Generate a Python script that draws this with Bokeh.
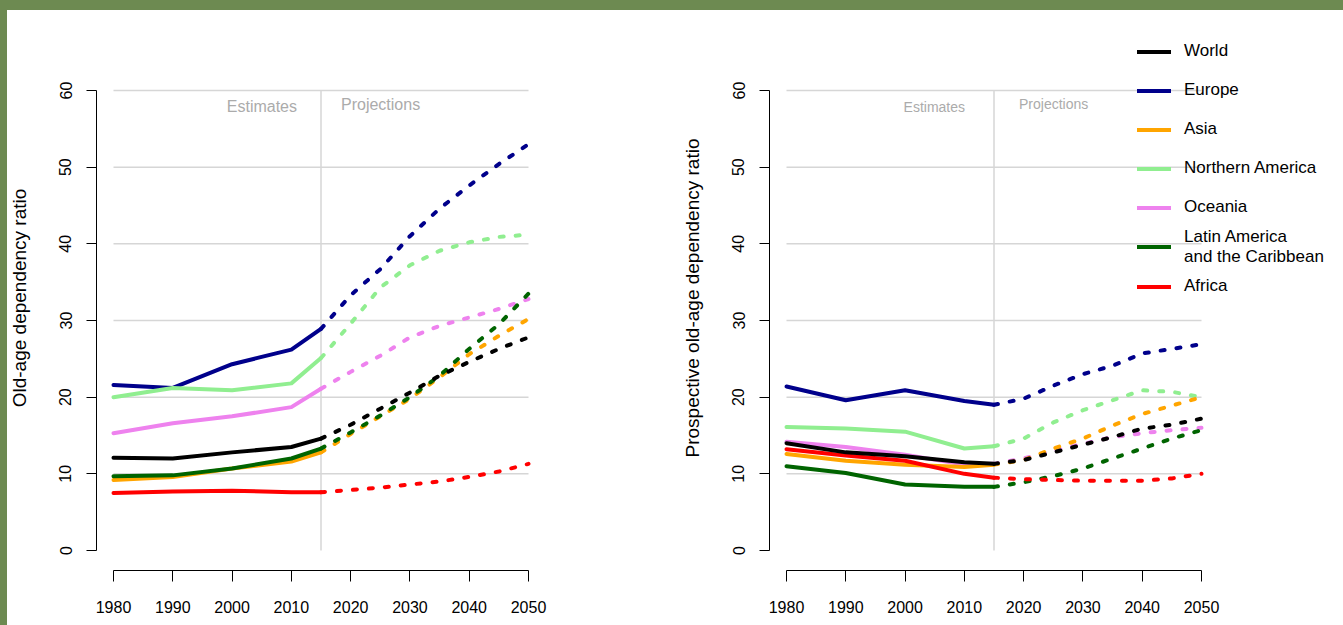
import math
from bokeh.plotting import figure
from bokeh.layouts import row
from bokeh.models import (Range1d, FixedTicker, Label, Legend, LegendItem,
                          GlobalInlineStyleSheet)
from bokeh.embed import file_html
from bokeh.resources import INLINE

# ---------------- data ----------------
years_est = [1980, 1990, 2000, 2010, 2015]
years_proj = [2015, 2020, 2025, 2030, 2035, 2040, 2045, 2050]
y_ticks = [0, 10, 20, 30, 40, 50, 60]
x_ticks = [1980, 1990, 2000, 2010, 2020, 2030, 2040, 2050]

regions = ["World", "Europe", "Asia", "Northern America", "Oceania",
           "Latin America\nand the Caribbean", "Africa"]
colors = ["#000000", "#00008b", "#ffa500", "#90ee90", "#ee82ee", "#006400", "#ff0000"]

# Old-age dependency ratio
oadr_est = {
    "World":   [12.1, 12.0, 12.8, 13.5, 14.6],
    "Europe":  [21.6, 21.2, 24.3, 26.2, 28.9],
    "Asia":    [9.2, 9.6, 10.7, 11.6, 12.8],
    "NAm":     [20.0, 21.2, 20.9, 21.8, 25.1],
    "Oceania": [15.3, 16.6, 17.5, 18.7, 21.1],
    "LatAm":   [9.7, 9.8, 10.7, 12.0, 13.3],
    "Africa":  [7.5, 7.7, 7.8, 7.6, 7.6],
}
oadr_proj = {
    "World":   [14.6, 16.4, 18.5, 20.6, 22.8, 24.6, 26.3, 27.8],
    "Europe":  [28.9, 33.3, 36.7, 41.0, 44.6, 47.6, 50.4, 53.0],
    "Asia":    [12.8, 15.2, 17.5, 19.8, 22.6, 25.6, 28.0, 30.2],
    "NAm":     [25.1, 29.6, 34.3, 37.2, 39.1, 40.2, 40.9, 41.2],
    "Oceania": [21.1, 23.3, 25.4, 27.8, 29.3, 30.4, 31.5, 32.8],
    "LatAm":   [13.3, 15.4, 17.6, 20.0, 22.8, 26.3, 29.5, 33.5],
    "Africa":  [7.6, 7.9, 8.2, 8.6, 9.0, 9.6, 10.3, 11.3],
}
# Prospective old-age dependency ratio
poadr_est = {
    "World":   [14.0, 12.8, 12.3, 11.5, 11.3],
    "Europe":  [21.4, 19.6, 20.9, 19.5, 19.0],
    "Asia":    [12.6, 11.7, 11.2, 10.9, 11.2],
    "NAm":     [16.1, 15.9, 15.5, 13.3, 13.6],
    "Oceania": [14.2, 13.5, 12.5, 11.2, 11.3],
    "LatAm":   [11.0, 10.1, 8.6, 8.3, 8.3],
    "Africa":  [13.2, 12.4, 11.7, 10.0, 9.5],
}
poadr_proj = {
    "World":   [11.3, 11.8, 12.8, 13.8, 14.8, 15.9, 16.4, 17.2],
    "Europe":  [19.0, 19.8, 21.5, 23.0, 24.1, 25.7, 26.3, 26.9],
    "Asia":    [11.2, 11.8, 13.3, 14.6, 16.3, 17.8, 18.9, 20.0],
    "NAm":     [13.6, 14.6, 16.7, 18.3, 19.6, 20.9, 20.7, 20.0],
    "Oceania": [11.3, 12.0, 13.0, 13.9, 14.8, 15.3, 15.7, 16.0],
    "LatAm":   [8.3, 8.9, 9.7, 10.7, 12.0, 13.3, 14.6, 15.7],
    "Africa":  [9.5, 9.3, 9.2, 9.1, 9.1, 9.1, 9.4, 10.0],
}
keys = ["World", "Europe", "Asia", "NAm", "Oceania", "LatAm", "Africa"]
draw_order = ["Europe", "NAm", "Oceania", "Asia", "LatAm", "Africa", "World"]

# ---------------- layout constants ----------------
FONT = "Liberation Sans"
GREEN = "#6d8a51"
PX_PER_YEAR = 415 / 70.0
PX_PER_UNIT = 460 / 60.0
FRAME_H = 545
TOP = 25
BOTTOM = 55
X0 = 1980 - 17 / PX_PER_YEAR
Y0 = -20 / PX_PER_UNIT
Y1 = 60 + 65 / PX_PER_UNIT


def make_fig(frame_w, border_l, border_r, ylabel, est, proj, est_off, proj_off, note_size):
    p = figure(frame_width=frame_w, frame_height=FRAME_H,
               min_border_left=border_l, min_border_right=border_r,
               min_border_top=TOP, min_border_bottom=BOTTOM,
               x_range=Range1d(X0, X0 + frame_w / PX_PER_YEAR),
               y_range=Range1d(Y0, Y1),
               output_backend="svg", toolbar_location=None,
               outline_line_color=None, background_fill_color="white",
               border_fill_alpha=0)
    p.grid.visible = False

    # grid lines
    gv = y_ticks[1:]
    p.segment(x0=[years_est[0]] * len(gv), y0=gv, x1=[years_proj[-1]] * len(gv), y1=gv,
              line_color="#d6d6d6", line_width=1.5)
    p.segment(x0=[years_est[-1]], y0=[y_ticks[0]], x1=[years_est[-1]], y1=[y_ticks[-1]],
              line_color="#d6d6d6", line_width=1.5)

    rends = {}
    for k in draw_order:
        c = colors[keys.index(k)]
        r = p.line(years_est, est[k], line_color=c, line_width=4, line_join="round", line_cap="round")
        p.line(years_proj, proj[k], line_color=c, line_width=4, line_dash="4 12",
               line_join="round", line_cap="round")
        rends[k] = r

    # axes
    xa = p.xaxis[0]
    xa.ticker = FixedTicker(ticks=x_ticks)
    xa.bounds = (x_ticks[0], x_ticks[-1])
    ya = p.yaxis[0]
    ya.ticker = FixedTicker(ticks=y_ticks)
    ya.bounds = (y_ticks[0], y_ticks[-1])
    for ax in (xa, ya):
        ax.axis_line_color = "black"
        ax.axis_line_width = 1
        ax.major_tick_line_color = "black"
        ax.major_tick_in = 0
        ax.major_tick_out = 10
        ax.minor_tick_line_color = None
        ax.major_label_text_font = FONT
        ax.major_label_text_font_size = "16px"
        ax.major_label_text_color = "black"
    xa.major_tick_out = 11
    xa.major_label_standoff = 19
    ya.major_label_orientation = "vertical"
    ya.major_label_standoff = 15
    ya.axis_label = ylabel
    ya.axis_label_text_font = FONT
    ya.axis_label_text_font_size = "19px"
    ya.axis_label_text_font_style = "normal"
    ya.axis_label_text_color = "black"
    ya.axis_label_standoff = 27

    p.add_layout(Label(x=years_est[-1], y=57.9, x_offset=est_off, text="Estimates",
                       text_align="right", text_baseline="middle", text_font=FONT,
                       text_font_size=note_size, text_color="#ababab"))
    p.add_layout(Label(x=years_est[-1], y=58.2, x_offset=proj_off, text="Projections",
                       text_align="left", text_baseline="middle", text_font=FONT,
                       text_font_size=note_size, text_color="#ababab"))
    return p, rends


p1, _ = make_fig(449, 96, 60, "Old-age dependency ratio", oadr_est, oadr_proj, -24, 20, "16px")
p2, rends2 = make_fig(573, 164, 0, "Prospective old-age dependency ratio", poadr_est, poadr_proj,
                      -29, 25, "14px")

items = [LegendItem(label=regions[i], renderers=[rends2[keys[i]]]) for i in range(len(keys))]
legend = Legend(items=items, location=(1137 - 769, 570 - 305.5),
                padding=0, spacing=0, margin=0,
                glyph_width=34, glyph_height=39, label_height=39, label_standoff=13,
                label_text_font=FONT, label_text_font_size="17px",
                label_text_baseline="middle", label_text_color="black",
                border_line_alpha=0, background_fill_alpha=0)
p2.add_layout(legend)

layout = row(p1, p2)
layout.stylesheets = [GlobalInlineStyleSheet(css=(
    "body{background:linear-gradient(" + GREEN + "," + GREEN + ") left top/100% 10px no-repeat,"
    "linear-gradient(" + GREEN + "," + GREEN + ") left top/7px 100% no-repeat,#ffffff;}"))]

open("out.html", "w").write(file_html(layout, INLINE))
